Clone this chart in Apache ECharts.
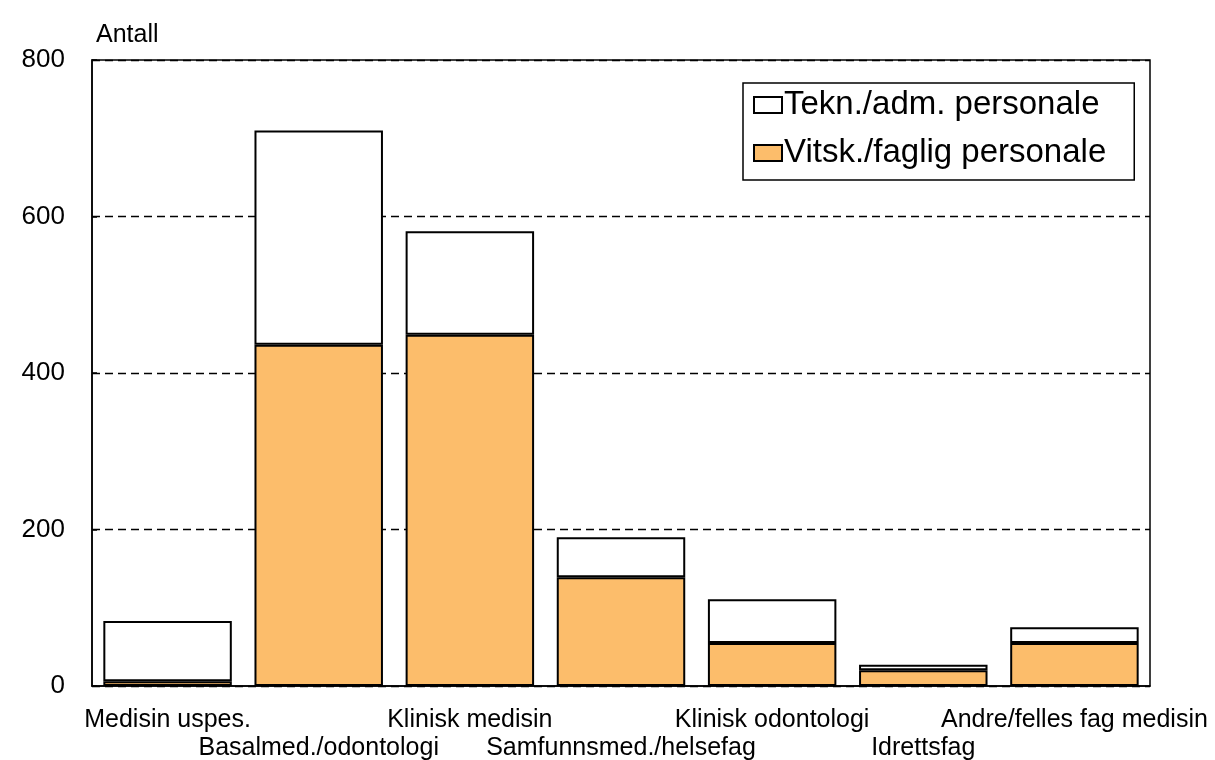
<!DOCTYPE html>
<html>
<head>
<meta charset="utf-8">
<script src="https://cdn.jsdelivr.net/npm/echarts@6/dist/echarts.min.js"></script>
<style>
  html, body { margin: 0; padding: 0; background: #fff; }
  #chart { width: 1215px; height: 760px; }
</style>
</head>
<body>
<div id="chart"></div>
<script>
  // kategorier og verdier lest av figuren
  const categories = ['Medisin uspes.', 'Basalmed./odontologi', 'Klinisk medisin', 'Samfunnsmed./helsefag', 'Klinisk odontologi', 'Idrettsfag', 'Andre/felles fag medisin']
  const vitskData = [6, 436, 449, 139, 55, 20, 55] // Vitsk./faglig personale
  const teknData = [77, 274, 132, 51, 56, 7, 20] // Tekn./adm. personale
  const yTicks = [0, 200, 400, 600, 800]

  const chart = echarts.init(document.getElementById('chart'))
  const font = 'Liberation Sans, Arial, sans-serif'

  chart.setOption({
    animation: false,
    textStyle: { fontFamily: font, color: '#000' },
    title: {
      text: 'Antall',
      left: 91,
      top: 18,
      textStyle: { fontSize: 25, fontWeight: 'normal', color: '#000', fontFamily: font }
    },
    grid: {
      left: 92,
      right: 65,
      top: 60,
      bottom: 74,
      outerBoundsMode: 'none',
      show: true,
      borderColor: '#000',
      borderWidth: 1.5
    },
    legend: {
      orient: 'vertical',
      left: 743,
      top: 83,
      data: ['Tekn./adm. personale', 'Vitsk./faglig personale'],
      icon: 'rect',
      itemWidth: 28,
      itemHeight: 16,
      itemGap: 14,
      padding: [5, 28, 10, 10],
      borderColor: '#000',
      borderWidth: 1.5,
      backgroundColor: '#fff',
      textStyle: { fontSize: 33, lineHeight: 34, color: '#000', fontFamily: font, padding: [0, 0, 0, -3] }
    },
    xAxis: {
      type: 'category',
      data: categories,
      axisTick: { show: false },
      axisLine: { lineStyle: { color: '#000', width: 1.5 } },
      axisLabel: {
        interval: 0,
        fontSize: 25,
        color: '#000',
        margin: 20,
        lineHeight: 28,
        formatter: function (v, i) { return i % 2 === 1 ? '\n' + v : v }
      }
    },
    yAxis: {
      type: 'value',
      min: yTicks[0],
      max: yTicks[yTicks.length - 1],
      interval: 200,
      axisTick: { show: true, inside: true, length: 5, lineStyle: { color: '#000', width: 1.5 } },
      axisLine: { show: true, lineStyle: { color: '#000', width: 1.5 } },
      axisLabel: { fontSize: 26, color: '#000', margin: 27 },
      splitLine: { show: true, lineStyle: { color: '#000', type: [8, 5], width: 1.3 } }
    },
    series: [
      {
        name: 'Vitsk./faglig personale',
        type: 'bar',
        stack: 'total',
        barCategoryGap: '15%',
        data: vitskData,
        itemStyle: { color: '#fcbd6b', borderColor: '#000', borderWidth: 2 }
      },
      {
        name: 'Tekn./adm. personale',
        type: 'bar',
        stack: 'total',
        barCategoryGap: '15%',
        data: teknData,
        itemStyle: { color: '#fff', borderColor: '#000', borderWidth: 2 }
      }
    ]
  })
</script>
</body>
</html>
